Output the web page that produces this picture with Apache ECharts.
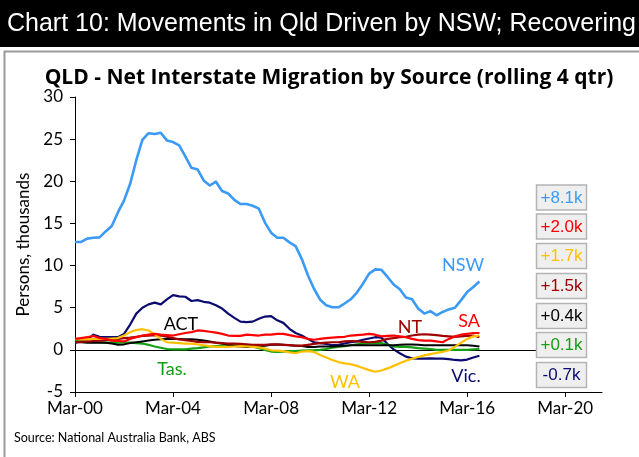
<!DOCTYPE html>
<html>
<head>
<meta charset="utf-8">
<script src="https://cdn.jsdelivr.net/npm/echarts@6/dist/echarts.min.js"></script>
<style>
  html, body { margin: 0; padding: 0; background: #fff; }
  #chart { width: 639px; height: 457px; }
</style>
</head>
<body>
<div id="chart"></div>
<script>
// Net interstate migration into QLD by source state, rolling 4-quarter sum,
// persons in thousands, quarterly from Mar-00 to Sep-16.
const firstYear = 2000;           // Mar-00
const xTickLabels = ['Mar-00', 'Mar-04', 'Mar-08', 'Mar-12', 'Mar-16', 'Mar-20'];
const yTicks = [-5, 0, 5, 10, 15, 20, 25, 30];

const nsw = [12.8,12.8,13.2,13.3,13.35,14.05,14.7,16.3,17.7,19.7,
  22.5,24.9,25.7,25.6,25.75,24.85,24.65,24.25,22.95,21.6,
  21.4,20.1,19.5,19.95,18.85,18.55,17.8,17.3,17.3,17.1,
  16.75,15.1,13.9,13.3,13.3,12.75,12.3,10.8,8.85,7.25,
  5.95,5.3,5.05,5.05,5.5,6.0,6.8,7.85,9.05,9.55,
  9.5,8.65,7.75,7.2,6.2,6.0,4.9,4.3,4.6,4.1,
  4.5,4.8,5.0,5.9,6.85,7.45,8.1];

const sa = [1.3,1.4,1.5,1.65,1.4,1.3,1.1,1.05,1.0,1.3,
  1.5,1.7,1.8,1.9,1.8,1.75,1.7,1.85,2.0,2.1,
  2.3,2.25,2.15,2.05,1.9,1.7,1.65,1.65,1.8,1.75,
  1.7,1.8,1.8,1.9,1.9,1.75,1.6,1.5,1.3,1.2,
  1.3,1.4,1.45,1.5,1.55,1.7,1.75,1.8,1.9,1.8,
  1.6,1.65,1.7,1.6,1.5,1.3,1.15,1.1,1.1,1.0,
  0.9,1.3,1.6,1.8,1.9,2.0,2.0];

const wa = [1.3,1.25,1.25,1.3,1.3,1.3,1.35,1.4,1.7,2.1,
  2.35,2.45,2.3,1.85,1.3,0.9,0.85,0.8,0.75,0.75,
  0.65,0.55,0.45,0.35,0.35,0.35,0.4,0.45,0.4,0.35,
  0.3,0.15,-0.05,-0.1,-0.15,-0.3,-0.4,-0.2,-0.15,-0.25,
  -0.6,-0.9,-1.2,-1.45,-1.6,-1.7,-1.9,-2.15,-2.4,-2.6,
  -2.45,-2.2,-1.9,-1.6,-1.3,-1.05,-0.85,-0.65,-0.5,-0.35,
  -0.25,-0.05,0.35,0.85,1.3,1.6,1.7];

const nt = [0.9,0.95,1.0,1.05,1.1,1.15,1.2,1.3,1.4,1.45,
  1.55,1.65,1.7,1.75,1.7,1.55,1.4,1.25,1.15,1.05,
  0.95,0.9,0.9,0.85,0.8,0.75,0.75,0.7,0.65,0.6,
  0.6,0.6,0.65,0.65,0.6,0.55,0.5,0.5,0.6,0.7,
  0.8,0.85,0.9,0.9,1.0,1.05,1.0,0.95,0.9,0.95,
  1.1,1.3,1.4,1.5,1.55,1.7,1.8,1.85,1.8,1.75,
  1.65,1.6,1.55,1.6,1.65,1.7,1.5];

const act = [0.9,0.9,0.85,0.85,0.85,0.85,0.75,0.6,0.65,0.8,
  0.9,1.0,1.1,1.2,1.25,1.3,1.3,1.3,1.25,1.25,
  1.2,1.1,1.0,0.85,0.75,0.6,0.45,0.4,0.35,0.4,
  0.45,0.5,0.6,0.65,0.6,0.55,0.5,0.45,0.35,0.35,
  0.4,0.4,0.4,0.45,0.5,0.55,0.55,0.55,0.55,0.55,
  0.55,0.55,0.55,0.6,0.65,0.65,0.6,0.55,0.55,0.55,
  0.55,0.55,0.55,0.55,0.55,0.5,0.4];

const tas = [1.1,1.0,0.95,0.9,0.9,0.85,0.85,0.85,0.85,0.85,
  0.8,0.75,0.6,0.4,0.25,0.1,0.05,0.05,0.05,0.15,
  0.2,0.3,0.4,0.45,0.5,0.55,0.55,0.55,0.55,0.4,
  0.2,0.0,-0.2,-0.25,-0.2,-0.15,-0.15,-0.1,-0.05,-0.05,
  0.0,0.1,0.25,0.35,0.45,0.55,0.65,0.75,0.8,0.8,
  0.8,0.6,0.4,0.35,0.35,0.3,0.2,0.15,0.1,0.0,
  0.0,0.0,0.0,0.0,0.0,0.05,0.1];

const vic = [0.85,1.0,1.2,1.8,1.55,1.5,1.5,1.5,1.9,3.0,
  4.3,5.0,5.4,5.6,5.4,6.0,6.5,6.35,6.3,5.8,
  5.9,5.7,5.6,5.3,4.9,4.3,3.8,3.35,3.3,3.35,
  3.7,3.95,4.0,3.5,3.2,2.5,2.0,1.7,1.3,0.9,
  0.8,0.7,0.55,0.6,0.75,0.9,1.0,1.2,1.35,1.5,
  1.45,0.7,0.05,-0.4,-0.8,-1.0,-1.05,-1.05,-1.0,-1.05,
  -1.05,-1.1,-1.2,-1.25,-1.15,-0.9,-0.7];

// name, values, colour, line width, tag position (px) and value-box slot
const states = [
  { name: 'NSW',  data: nsw, color: '#3A9AF5', width: 2.6, tag: [463, 265], box: 0 },
  { name: 'SA',   data: sa,  color: '#FF0000', width: 2.2, tag: [469, 321], box: 1 },
  { name: 'WA',   data: wa,  color: '#FFC000', width: 2.2, tag: [345, 382], box: 2 },
  { name: 'NT',   data: nt,  color: '#A00000', width: 2.2, tag: [410, 327], box: 3 },
  { name: 'ACT',  data: act, color: '#000000', width: 2.0, tag: [181, 324], box: 4 },
  { name: 'Tas.', data: tas, color: '#13A013', width: 2.2, tag: [172, 369], box: 5 },
  { name: 'Vic.', data: vic, color: '#0A0A70', width: 2.2, tag: [466, 376], box: 6 }
];

const labelFont = 'Lato, "Open Sans", sans-serif';
const boxTops = [185, 214, 243.5, 273.5, 303.5, 332.5, 362.5];

function fmtLast(arr) {
  const v = arr[arr.length - 1];
  return (v >= 0 ? '+' : '') + v.toFixed(1) + 'k';
}

const series = states.map((s, k) => ({
  name: s.name,
  type: 'line',
  showSymbol: false,
  symbol: 'none',
  animation: false,
  data: s.data.map((v, i) => [firstYear + i * 0.25, v]),
  lineStyle: { color: s.color, width: s.width, join: 'round' },
  z: 10 - k
}));

// zero reference line running out to the value boxes
series.push({
  type: 'line',
  data: [],
  silent: true,
  markLine: {
    silent: true,
    symbol: ['none', 'none'],
    label: { show: false },
    lineStyle: { color: '#000', width: 1, type: 'solid' },
    data: [[{ coord: [firstYear, 0] }, { coord: [2018.83, 0] }]]
  }
});

const graphics = [
  { type: 'rect', shape: { x: 0, y: 0, width: 639, height: 47 }, style: { fill: '#000' } },
  { type: 'text', x: 7, y: 24, style: {
      text: 'Chart 10: Movements in Qld Driven by NSW; Recovering',
      fill: '#fff', font: '25px "Liberation Sans", Arial, sans-serif',
      textVerticalAlign: 'middle' } },
  { type: 'polyline', shape: { points: [[4.5, 457], [4.5, 51.5], [639, 51.5]] },
    style: { stroke: '#9a9a9a', lineWidth: 2, fill: null } },
  { type: 'text', x: 14, y: 438, style: {
      text: 'Source: National Australia Bank, ABS', fill: '#000',
      font: '12.5px ' + labelFont, textVerticalAlign: 'middle' } }
];

states.forEach(s => {
  graphics.push({ type: 'text', x: s.tag[0], y: s.tag[1], z: 50, style: {
    text: s.name, fill: s.color, font: '18px ' + labelFont,
    textAlign: 'center', textVerticalAlign: 'middle' } });
  const top = boxTops[s.box];
  graphics.push({ type: 'rect', z: 50,
    shape: { x: 536.5, y: top, width: 50, height: 25 },
    style: { fill: '#efefef', stroke: '#b4b4b4', lineWidth: 1.5 } });
  graphics.push({ type: 'text', x: 561.5, y: top + 13, z: 51, style: {
    text: fmtLast(s.data), fill: s.color,
    font: '17px "Liberation Sans", Arial, sans-serif',
    textAlign: 'center', textVerticalAlign: 'middle' } });
});

const chart = echarts.init(document.getElementById('chart'), null, { renderer: 'canvas' });
chart.setOption({
  animation: false,
  backgroundColor: '#fff',
  title: {
    text: 'QLD - Net Interstate Migration by Source (rolling 4 qtr)',
    left: 324, top: 63, textAlign: 'center',
    textStyle: { fontFamily: '"Open Sans", Lato, sans-serif', fontWeight: 'bold', fontSize: 21, color: '#000' }
  },
  grid: { left: 75, right: 37, top: 97, bottom: 65 },
  xAxis: {
    type: 'value',
    min: 2000, max: 2021.5, interval: 4,
    axisLine: { onZero: false, lineStyle: { color: '#000', width: 1 } },
    axisTick: { show: true, length: 5, lineStyle: { color: '#000' } },
    splitLine: { show: false },
    axisLabel: {
      color: '#000', fontFamily: labelFont, fontSize: 17, margin: 8,
      formatter: v => xTickLabels[Math.round((v - firstYear) / 4)] || '',
      showMaxLabel: false
    }
  },
  yAxis: {
    type: 'value',
    min: yTicks[0], max: yTicks[yTicks.length - 1], interval: 5,
    name: 'Persons, thousands', nameLocation: 'middle', nameGap: 43, nameRotate: 90,
    nameTextStyle: { color: '#000', fontFamily: labelFont, fontSize: 17 },
    axisLine: { show: true, lineStyle: { color: '#000', width: 1 } },
    axisTick: { show: true, length: 5, lineStyle: { color: '#000' } },
    splitLine: { show: false },
    axisLabel: { color: '#000', fontFamily: labelFont, fontSize: 17, margin: 12 }
  },
  series: series,
  graphic: graphics
});
</script>
</body>
</html>
